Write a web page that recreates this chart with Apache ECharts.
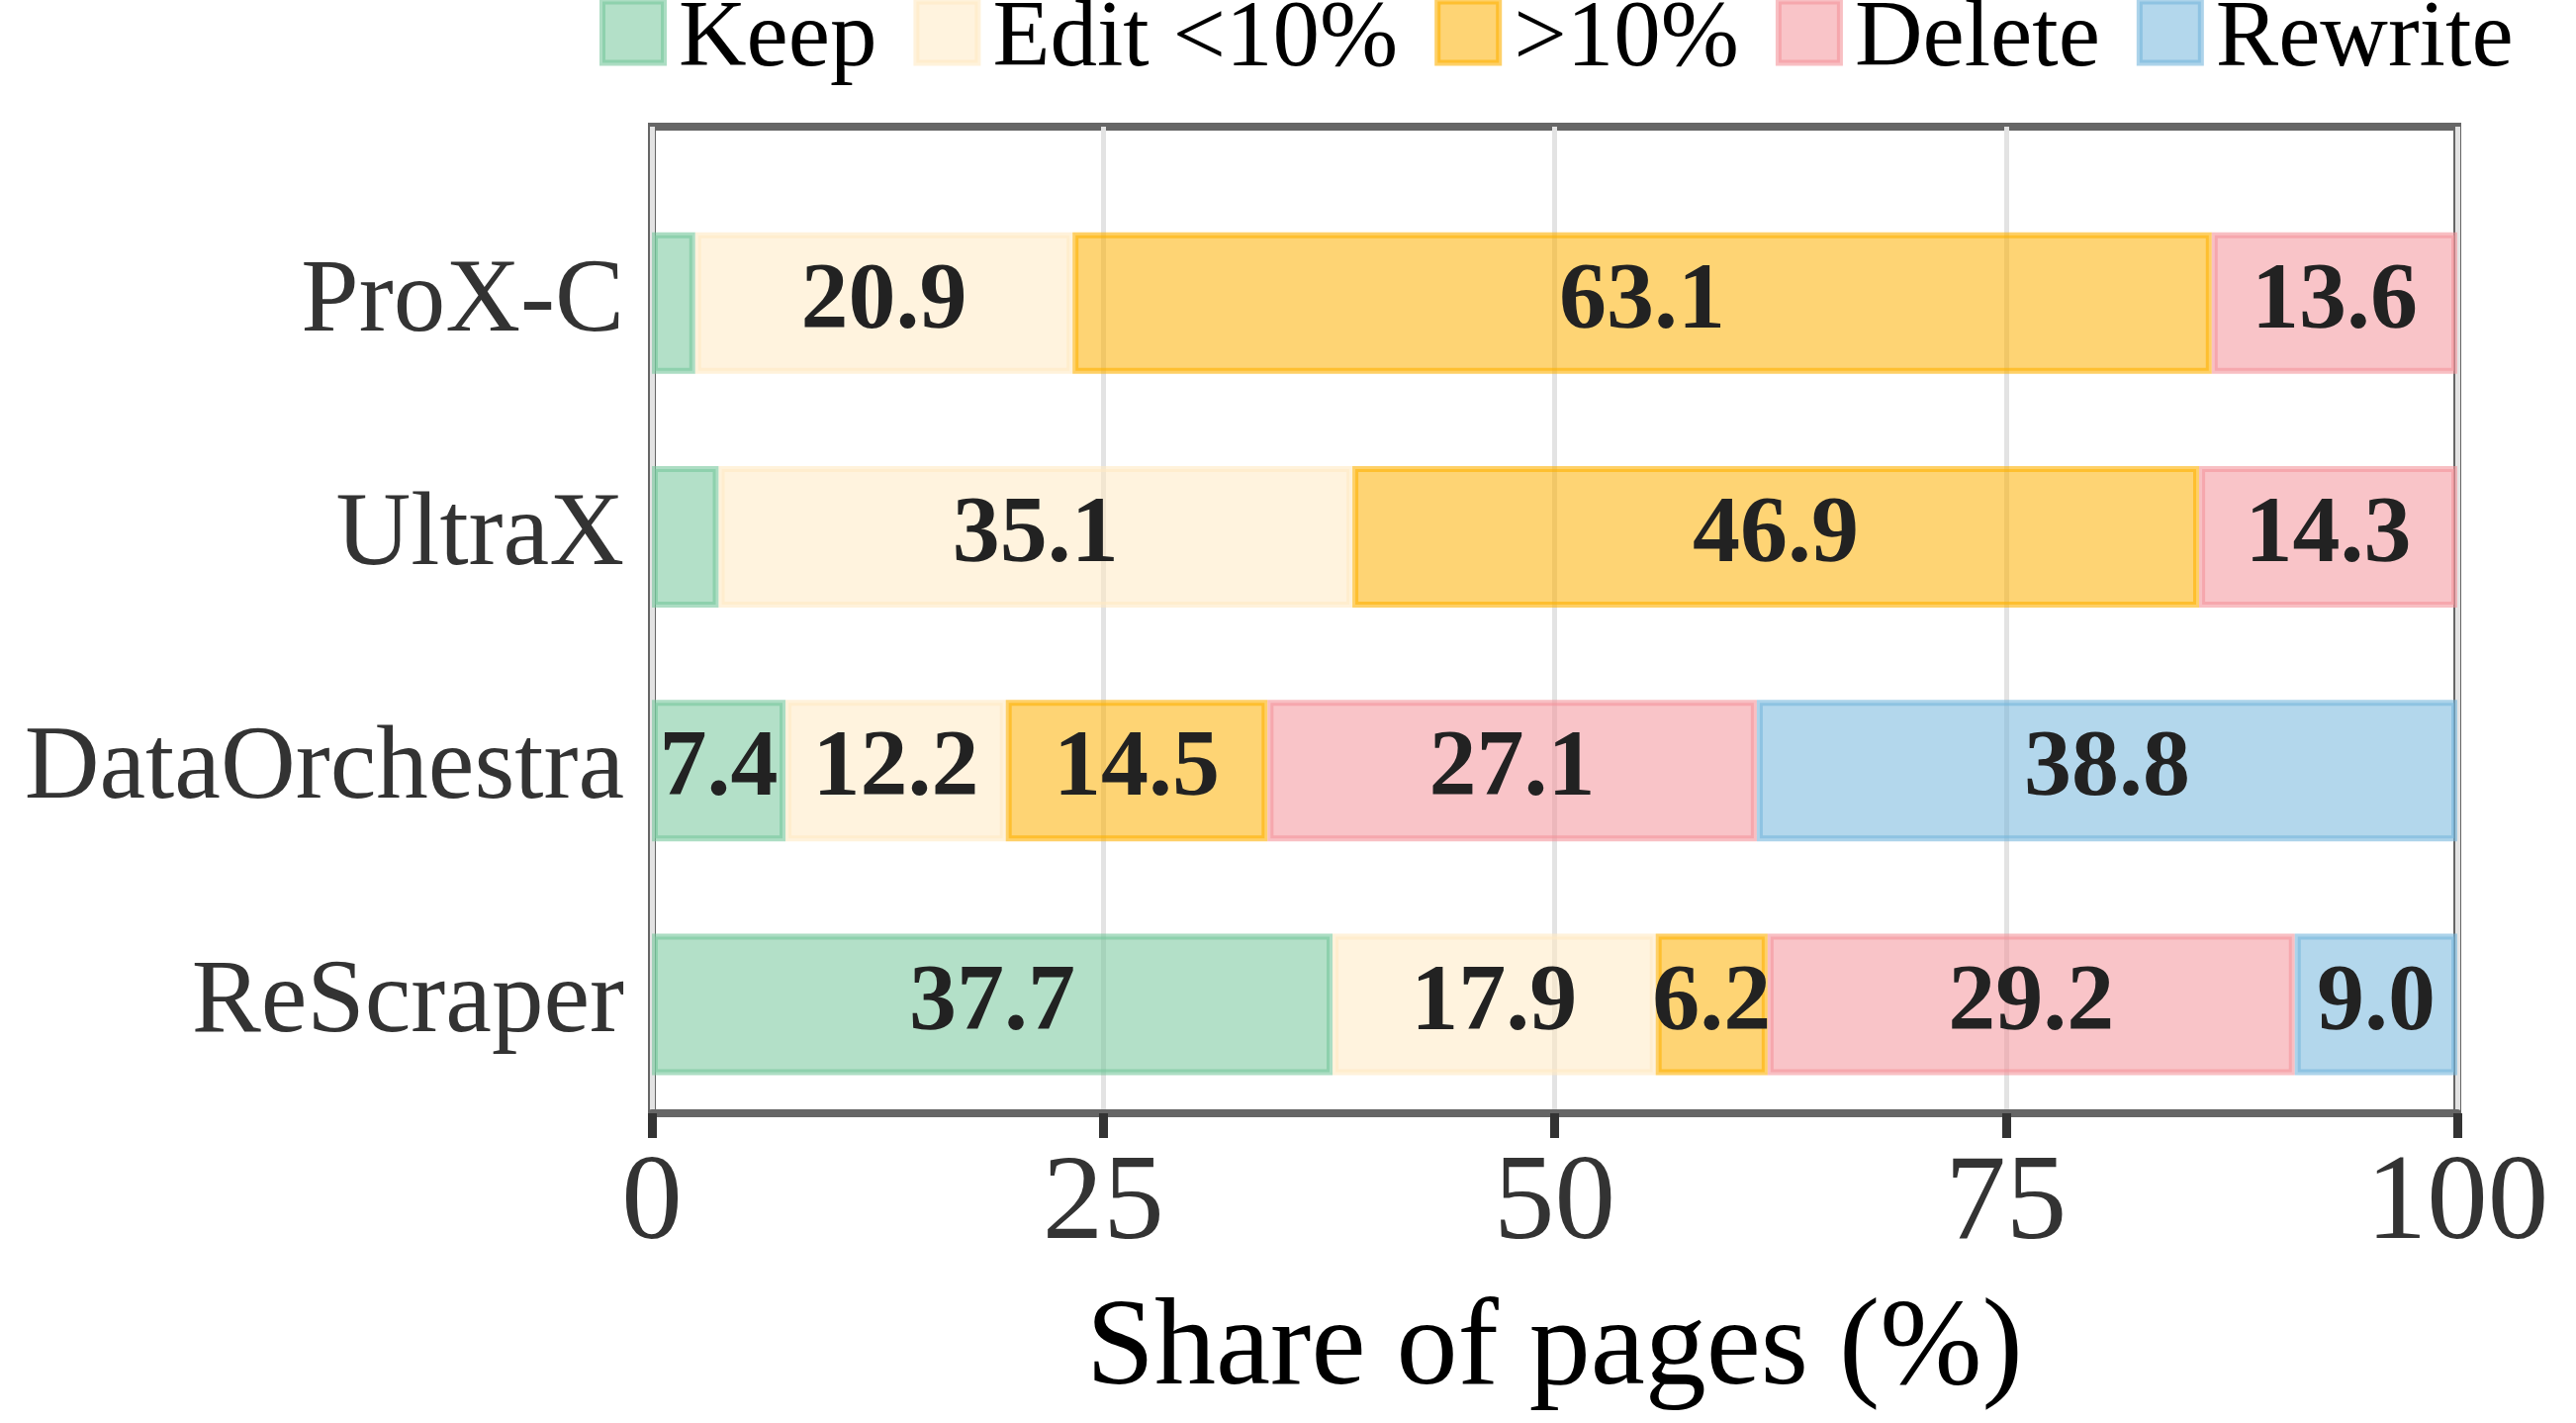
<!DOCTYPE html>
<html>
<head>
<meta charset="utf-8">
<title>Share of pages</title>
<script src="https://cdn.jsdelivr.net/npm/echarts@6/dist/echarts.min.js"></script>
<style>
	html, body { margin: 0; padding: 0; background: #fff; }
	#chart { width: 2604px; height: 1438px; }
</style>
</head>
<body>
<div id="chart"></div>
<script>
var categories = ['ProX-C', 'UltraX', 'DataOrchestra', 'ReScraper'];
var seriesNames = ['Keep', 'Edit <10%', '>10%', 'Delete', 'Rewrite'];
// share of pages per category (%), one array per action
var keep = [2.4, 3.7, 7.4, 37.7];
var editSmall = [20.9, 35.1, 12.2, 17.9];
var editLarge = [63.1, 46.9, 14.5, 6.2];
var del = [13.6, 14.3, 27.1, 29.2];
var rewrite = [0, 0, 38.8, 9.0];
var xTicks = [0, 25, 50, 75, 100];

var baseColors = ['117,199,155', '255,233,195', '253,177,2', '244,148,155', '117,182,220'];
var serif = "'Liberation Serif', 'Times New Roman', serif";
// square swatch plus an empty point below it, so the square sits higher than the text centre
var swatchIcon = 'path://M0,0L62,0L62,62L0,62Z M0,80L0,80';

function rgba(c, a) {
	return 'rgba(' + c + ',' + a + ')';
}

function segStyle(i) {
	return {
		color: rgba(baseColors[i], 0.55),
		borderColor: rgba(baseColors[i], 0.6),
		borderWidth: 6
	};
}

function buildSeries() {
	var all = [keep, editSmall, editLarge, del, rewrite];
	var list = [];
	all.forEach(function(values, i) {
		list.push({
			name: seriesNames[i],
			type: 'bar',
			stack: 'total',
			xAxisIndex: 0,
			yAxisIndex: 0,
			barWidth: 143,
			data: values.map(function(v) {
				return v > 0 ? v : '-'; // zero share: nothing drawn
			}),
			itemStyle: segStyle(i),
			label: {
				show: true,
				position: 'inside',
				fontFamily: serif,
				fontSize: 96,
				fontWeight: 'bold',
				color: '#222',
				formatter: function(p) {
					return p.value >= 5 ? p.value.toFixed(1) : '';
				}
			}
		});
	});
	return list;
}

var chart = echarts.init(document.getElementById('chart'), null, { renderer: 'canvas' });

var option = {
	animation: false,
	backgroundColor: '#fff',
	legend: {
		top: -11,
		left: 601,
		icon: swatchIcon,
		itemWidth: 62,
		itemHeight: 80,
		itemGap: 37,
		selectedMode: false,
		textStyle: {
			fontFamily: serif,
			fontSize: 95,
			color: '#000',
			padding: [0, 0, 0, 10]
		},
		data: seriesNames.map(function(n, i) {
			return { name: n, itemStyle: segStyle(i) };
		})
	},
	grid: [{
		// bars
		left: 659,
		right: 120,
		top: 188,
		bottom: 305
	}, {
		// frame + x axis
		left: 659,
		right: 120,
		top: 128,
		bottom: 313,
		show: true,
		borderColor: '#666',
		borderWidth: 8,
		backgroundColor: 'transparent'
	}],
	xAxis: [{
		gridIndex: 0,
		type: 'value',
		min: 0,
		max: 100,
		show: false
	}, {
		gridIndex: 1,
		type: 'value',
		min: xTicks[0],
		max: xTicks[xTicks.length - 1],
		interval: 25,
		axisLine: { show: true, lineStyle: { color: '#666', width: 8 } },
		axisTick: { show: true, length: 25, lineStyle: { color: '#333', width: 9 } },
		axisLabel: { fontFamily: serif, fontSize: 123, color: '#333', margin: 32 },
		splitLine: { show: true, lineStyle: { color: '#e3e3e3', width: 5 } },
		name: 'Share of pages (%)',
		nameLocation: 'middle',
		nameGap: 178,
		nameTextStyle: { fontFamily: serif, fontSize: 124, color: '#000' }
	}],
	yAxis: [{
		gridIndex: 0,
		type: 'category',
		data: categories,
		inverse: true,
		axisLine: { show: false },
		axisTick: { show: false },
		splitLine: { show: false },
		axisLabel: { fontFamily: serif, fontSize: 105, color: '#333', margin: 28 }
	}, {
		gridIndex: 1,
		type: 'value',
		show: false
	}],
	series: buildSeries()
};

chart.setOption(option);
</script>
</body>
</html>
